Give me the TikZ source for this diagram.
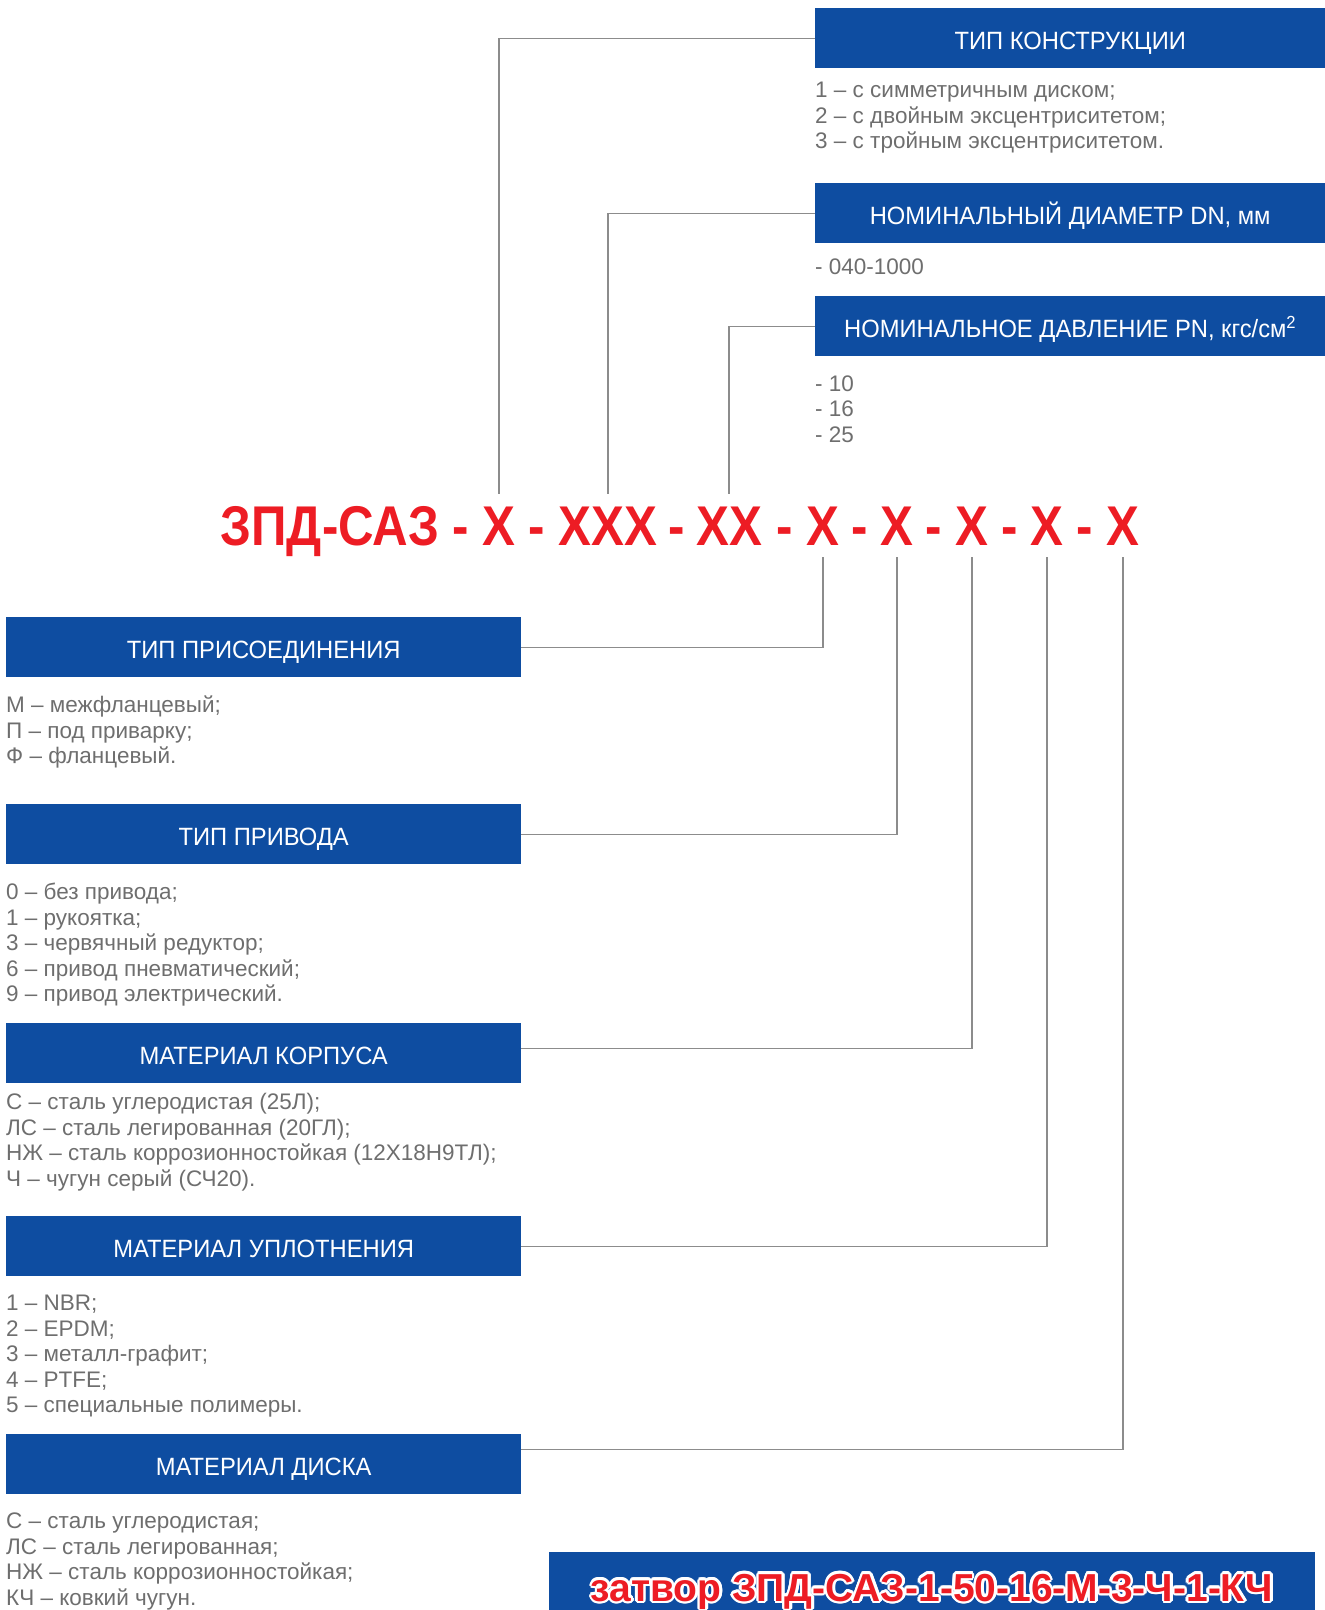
\documentclass[tikz,border=0pt]{standalone}
\usepackage{fontspec}
\setmainfont{Liberation Sans}
\newfontfamily\hdrfont{Liberation Sans}[FakeStretch=0.95]
\newfontfamily\codefont{Liberation Sans}[FakeStretch=0.88]
\usepackage{contour}
\usepackage{tikz}
\usetikzlibrary{calc,positioning}

\definecolor{zpdblue}{RGB}{14,77,161}
\definecolor{zpdred}{RGB}{237,28,36}
\definecolor{zpdgray}{RGB}{110,110,110}
\definecolor{zpdline}{RGB}{140,140,140}
\contourlength{2.5pt}

\begin{document}
\begin{tikzpicture}[
    x=1pt, y=-1pt,
    hdr/.style={rectangle, fill=zpdblue, anchor=north west, minimum width=510pt,
                minimum height=60pt, inner sep=0pt, text=white,
                text height=23pt, text depth=0pt,
                font=\hdrfont\fontsize{25}{30}\selectfont},
    % base = baseline of the last line
    body/.style={anchor=base west, align=left, inner sep=0pt, text=zpdgray,
                 font=\fontsize{22.5}{25.4}\selectfont},
    code/.style={anchor=base, inner sep=12pt, text=zpdred,
                 font=\codefont\bfseries\fontsize{56}{60}\selectfont},
    link/.style={draw=zpdline, line width=1.3pt},
    banner/.style={rectangle, fill=zpdblue, anchor=north west, minimum width=766pt,
                   minimum height=58pt, inner sep=0pt},
    bantxt/.style={anchor=base, inner sep=0pt, text=zpdred,
                   font=\bfseries\fontsize{39}{44}\selectfont}
  ]
    \useasboundingbox (0,0) rectangle (1325,1610);

    % headers, right column
    \node[hdr] (konstr) at (815,8) {ТИП КОНСТРУКЦИИ};
    \node[hdr] (dn) at (815,183) {НОМИНАЛЬНЫЙ ДИАМЕТР DN, мм};
    \node[hdr] (pn) at (815,296) {НОМИНАЛЬНОЕ ДАВЛЕНИЕ PN, кгс/см\textsuperscript{2}};

    \node[body] (konstrtxt) at ([yshift=-80.3pt]konstr.south west)
      {1 – с симметричным диском;\\2 – с двойным эксцентриситетом;\\3 – с тройным эксцентриситетом.};
    \node[body] (dntxt) at ([yshift=-31.5pt]dn.south west) {- 040-1000};
    \node[body] (pntxt) at ([yshift=-85.8pt]pn.south west) {- 10\\- 16\\- 25};

    % code line
    \node[code] (pref) at (330,545) {ЗПД-САЗ};
    \foreach \hx [count=\i] in {461,537,677,785,860,934,1010,1085}
      \node[code] (h\i) at (\hx,545) {-};
    \node[code] (c1) at (499,545) {X};
    \node[code] (c2) at (608,545) {XXX};
    \node[code] (c3) at (729,545) {XX};
    \foreach \cx/\nm in {823/c4,897/c5,972/c6,1047/c7,1123/c8}
      \node[code] (\nm) at (\cx,545) {X};

    % headers, left column
    \node[hdr, minimum width=515pt] (prisoed) at (6,617) {ТИП ПРИСОЕДИНЕНИЯ};
    \node[hdr, minimum width=515pt] (privod) at (6,804) {ТИП ПРИВОДА};
    \node[hdr, minimum width=515pt] (korpus) at (6,1023) {МАТЕРИАЛ КОРПУСА};
    \node[hdr, minimum width=515pt] (uplot) at (6,1216) {МАТЕРИАЛ УПЛОТНЕНИЯ};
    \node[hdr, minimum width=515pt] (disk) at (6,1434) {МАТЕРИАЛ ДИСКА};

    \node[body] (prisoedtxt) at ([yshift=-86.3pt]prisoed.south west)
      {М – межфланцевый;\\П – под приварку;\\Ф – фланцевый.};
    \node[body] (privodtxt) at ([yshift=-137.1pt]privod.south west)
      {0 – без привода;\\1 – рукоятка;\\3 – червячный редуктор;\\6 – привод пневматический;\\9 – привод электрический.};
    \node[body] (korpustxt) at ([yshift=-102.7pt]korpus.south west)
      {С – сталь углеродистая (25Л);\\ЛС – сталь легированная (20ГЛ);\\НЖ – сталь коррозионностойкая (12Х18Н9ТЛ);\\Ч – чугун серый (СЧ20).};
    \node[body] (uplottxt) at ([yshift=-136.1pt]uplot.south west)
      {1 – NBR;\\2 – EPDM;\\3 – металл-графит;\\4 – PTFE;\\5 – специальные полимеры.};
    \node[body] (disktxt) at ([yshift=-110.7pt]disk.south west)
      {С – сталь углеродистая;\\ЛС – сталь легированная;\\НЖ – сталь коррозионностойкая;\\КЧ – ковкий чугун.};

    % example designation
    \node[banner] (ban) at (549,1552) {};
    \node[bantxt] (bant) at (932,1601) {\contour{white}{затвор ЗПД-САЗ-1-50-16-М-3-Ч-1-КЧ}};

    \draw[link] (konstr.west) -| (c1.north);
    \draw[link] (dn.west) -| (c2.north);
    \draw[link] (pn.west) -| (c3.north);
    \draw[link] (c4.south) |- (prisoed.east);
    \draw[link] (c5.south) |- (privod.east);
    \draw[link] (c6.south) |- ([yshift=4.5pt]korpus.east);
    \draw[link] (c7.south) |- (uplot.east);
    \draw[link] (c8.south) |- ([yshift=14.5pt]disk.east);
  \end{tikzpicture}
\end{document}
